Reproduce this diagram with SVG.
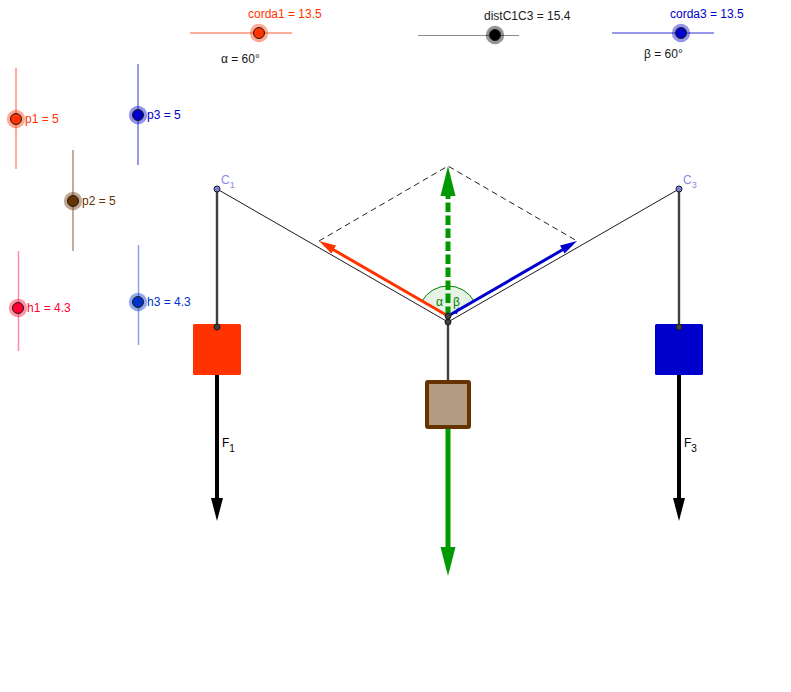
<svg xmlns="http://www.w3.org/2000/svg" width="791" height="692" viewBox="0 0 791 692">
<style>
text{font-family:"Liberation Sans",Arial,sans-serif;font-size:12px}
.thin{stroke:#1a1a1a;stroke-width:1;fill:none}
.hang{stroke:#404040;stroke-width:2.400;fill:none}
.dash{stroke:#222;stroke-width:1;fill:none;stroke-dasharray:6 4}
.dot{fill:#404040;stroke:#1a1a1a;stroke-width:1}
.anchor{fill:#7d7de0;stroke:#1a1a1a;stroke-width:1}
.track{stroke-width:2;stroke-opacity:.4}
.knob{stroke:#1a1a1a;stroke-width:1}
.halo{fill-opacity:.42}
</style>
<g id="connectors">
<path class="thin" d="M217 189L448 322L679 189"/>
<path class="hang" d="M217 189V327M679 189V327M448 322V382"/>
<path class="dash" d="M319 241L448 166L577 241"/>
<path d="M448 316L422 301A30 30 0 0 1 474 301Z" fill="#008000" fill-opacity=".1"/>
<path d="M422 301A30 30 0 0 1 474 301" fill="none" stroke="#008000" stroke-width="1"/>
<path d="M448 316L333 249.500" stroke="#ff3300" stroke-width="3" fill="none"/>
<path d="M319 241L336 245.600L331.400 253.400Z" fill="#ff3300"/>
<path d="M448 316L563 249.500" stroke="#0000cc" stroke-width="3" fill="none"/>
<path d="M577 241L560 245.600L564.600 253.400Z" fill="#0000cc"/>
<path d="M453 313L459 307L457 314Z" fill="#0000cc"/>
<path d="M448 316V196" stroke="#009900" stroke-width="5" stroke-dasharray="9.500 3.500" fill="none"/>
<path d="M448 166L455.500 196H440.500Z" fill="#009900"/>
<path d="M217 371V500" stroke="#000" stroke-width="4" fill="none"/>
<path d="M217 521L211 498H223Z" fill="#000"/>
<path d="M679 371V500" stroke="#000" stroke-width="4" fill="none"/>
<path d="M679 521L673 498H685Z" fill="#000"/>
<path d="M448 426V550" stroke="#009900" stroke-width="5" fill="none"/>
<path d="M448 576L440.500 547H455.500Z" fill="#009900"/>
</g>
<g id="block1"><rect x="193" y="324" width="48" height="51" rx="1.500" fill="#ff3300"/><circle class="dot" cx="217" cy="327" r="3"/></g>
<g id="block3"><rect x="655" y="324" width="48" height="51" rx="1.500" fill="#0000cc"/><circle class="dot" cx="679" cy="327" r="3"/></g>
<g id="block2"><rect x="427" y="382" width="42" height="45" rx="1" fill="#b39a82" stroke="#663300" stroke-width="4"/></g>
<g id="C1"><circle class="anchor" cx="217" cy="189" r="3"/><text x="221" y="183.500" fill="#8a8ae6">C<tspan dy="4.500" font-size="9">1</tspan></text></g>
<g id="C3"><circle class="anchor" cx="679" cy="189" r="3"/><text x="683" y="183.500" fill="#8a8ae6">C<tspan dy="4.500" font-size="9">3</tspan></text></g>
<g id="joint"><circle class="dot" cx="448" cy="322" r="3"/><circle class="dot" cx="448" cy="316" r="3"/></g>
<g id="angle-labels"><text x="436" y="306" fill="#008000">α</text><text x="453" y="306" fill="#008000">β</text><text x="221" y="63" fill="#1a1a1a">α = 60°</text><text x="644" y="58" fill="#1a1a1a">β = 60°</text></g>
<g id="force-labels"><text x="222" y="447" fill="#000">F<tspan dy="5" font-size="10">1</tspan></text><text x="684" y="447" fill="#000">F<tspan dy="5" font-size="10">3</tspan></text></g>
<g id="slider-corda1"><path class="track" d="M190 33H292" stroke="#ff3300"/><circle class="halo" cx="259" cy="33" r="9.200" fill="#ff3300"/><circle class="knob" cx="259" cy="33" r="5.500" fill="#ff3300"/><text x="248" y="18" fill="#ff3300">corda1 = 13.5</text></g>
<g id="slider-dist"><path d="M418 35.500H519" stroke="#000" stroke-opacity=".45" stroke-width="1"/><circle class="halo" cx="495" cy="35" r="9.200" fill="#000"/><circle class="knob" cx="495" cy="35" r="5.500" fill="#000"/><text x="484" y="20" fill="#1a1a1a">distC1C3 = 15.4</text></g>
<g id="slider-corda3"><path class="track" d="M612 33H714" stroke="#0000cc"/><circle class="halo" cx="681" cy="33" r="9.200" fill="#0000cc"/><circle class="knob" cx="681" cy="33" r="5.500" fill="#0000cc"/><text x="670" y="18" fill="#0000cc">corda3 = 13.5</text></g>
<g id="slider-p1"><path class="track" d="M16 68V169" stroke="#ff3300"/><circle class="halo" cx="16" cy="119" r="9.200" fill="#ff3300"/><circle class="knob" cx="16" cy="119" r="5.500" fill="#ff3300"/><text x="25" y="123" fill="#ff3300">p1 = 5</text></g>
<g id="slider-p3"><path class="track" d="M138 64V165" stroke="#0000cc"/><circle class="halo" cx="138" cy="115" r="9.200" fill="#0000cc"/><circle class="knob" cx="138" cy="115" r="5.500" fill="#0000cc"/><text x="147" y="119" fill="#0000cc">p3 = 5</text></g>
<g id="slider-p2"><path class="track" d="M73 150V251" stroke="#663300"/><circle class="halo" cx="73" cy="201" r="9.200" fill="#663300"/><circle class="knob" cx="73" cy="201" r="5.500" fill="#663300"/><text x="82" y="205" fill="#663300">p2 = 5</text></g>
<g id="slider-h1"><path d="M18.500 251V351" stroke="#ff0033" stroke-opacity=".45" stroke-width="1.500"/><circle class="halo" cx="18" cy="308" r="9.200" fill="#ff0033"/><circle class="knob" cx="18" cy="308" r="5.500" fill="#ff0033"/><text x="27" y="312" fill="#ff0033">h1 = 4.3</text></g>
<g id="slider-h3"><path d="M138.500 245V345" stroke="#0033cc" stroke-opacity=".45" stroke-width="1.500"/><circle class="halo" cx="138" cy="302" r="9.200" fill="#0033cc"/><circle class="knob" cx="138" cy="302" r="5.500" fill="#0033cc"/><text x="147" y="306" fill="#0033cc">h3 = 4.3</text></g>
</svg>
